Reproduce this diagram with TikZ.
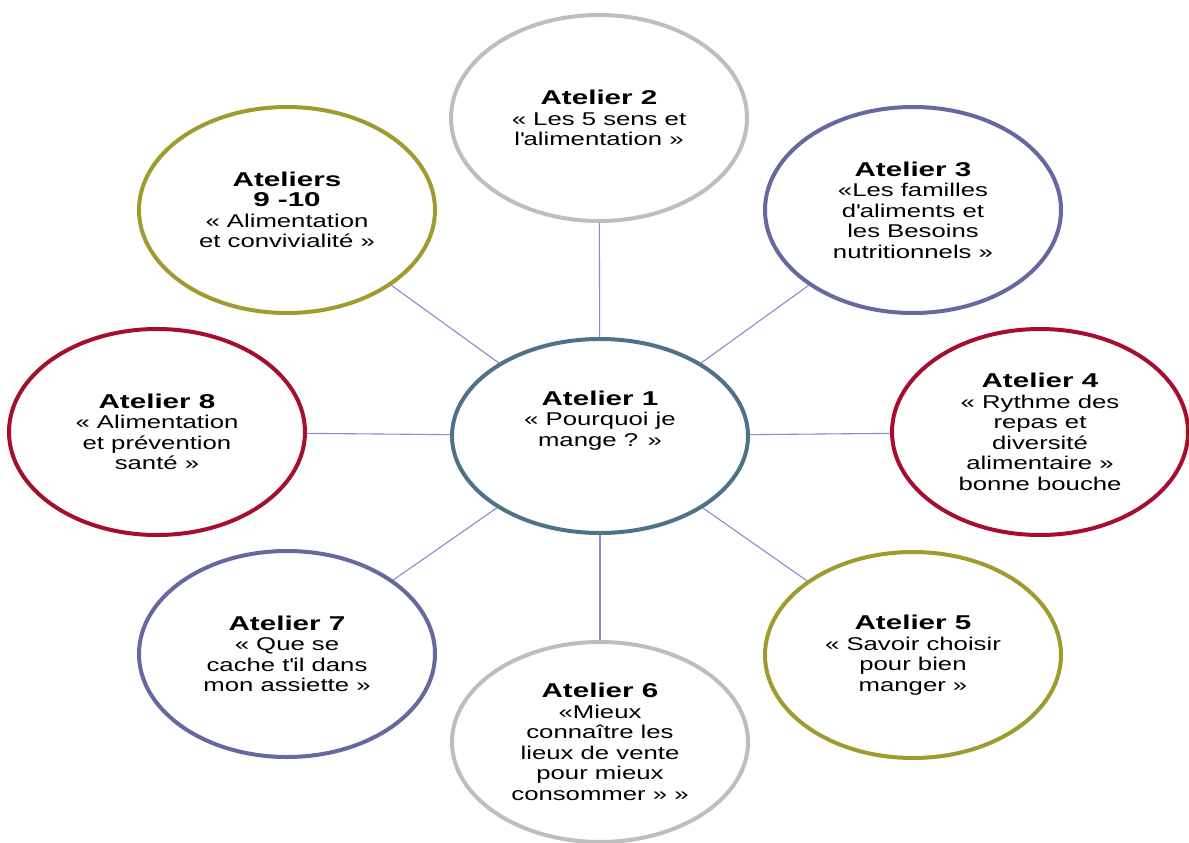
\documentclass[tikz,border=0pt]{standalone}
\usepackage{fontspec}
\setmainfont[FakeStretch=1.39]{Liberation Sans}
\newfontfamily\titrefont[FakeStretch=1.48]{Liberation Sans}
\usetikzlibrary{shapes.geometric}
\definecolor{bleucentre}{RGB}{78,114,134}
\definecolor{grisbulle}{RGB}{190,190,190}
\definecolor{violetbulle}{RGB}{104,104,160}
\definecolor{olivebulle}{RGB}{160,155,48}
\definecolor{rougebulle}{RGB}{165,15,45}
\definecolor{lienbleu}{RGB}{140,140,200}
\newcommand\titreatelier[1]{{\titrefont\bfseries\fontsize{20}{23}\selectfont #1}}

\begin{document}
\begin{tikzpicture}[x=1pt,y=-1pt,
    bulle/.style={draw,ellipse,line width=4pt,minimum width=296pt,minimum height=206pt,
      inner sep=0pt,align=center,font=\fontsize{18.5}{20.5}\selectfont},
    lien/.style={draw=lienbleu,line width=1.1pt}]
  \fill[white] (0,0) rectangle (1189,843);
  \useasboundingbox (0,0) rectangle (1189,843);
  % centre
  \node[bulle,draw=bleucentre,minimum height=194pt] (a1) at (600,436)
    {\titreatelier{Atelier 1}\\« Pourquoi je\\mange ? »\\[14pt]\mbox{}};
  % ateliers autour
  \node[bulle,draw=grisbulle] (a2) at (599,118)
    {\titreatelier{Atelier 2}\\« Les 5 sens et\\l\textquotesingle alimentation »};
  \node[bulle,draw=violetbulle] (a3) at (913,210)
    {\titreatelier{Atelier 3}\\«Les familles\\d\textquotesingle aliments et\\les Besoins\\nutritionnels »};
  \node[bulle,draw=rougebulle] (a4) at (1040,432)
    {\titreatelier{Atelier 4}\\« Rythme des\\repas et\\diversité\\alimentaire »\\bonne bouche};
  \node[bulle,draw=olivebulle] (a5) at (913,655)
    {\titreatelier{Atelier 5}\\« Savoir choisir\\pour bien\\manger »};
  \node[bulle,draw=grisbulle,minimum height=200pt] (a6) at (600,742)
    {\titreatelier{Atelier 6}\\«Mieux\\connaître les\\lieux de vente\\pour mieux\\consommer » »};
  \node[bulle,draw=violetbulle] (a7) at (287,654)
    {\titreatelier{Atelier 7}\\« Que se\\cache t\textquotesingle il dans\\mon assiette »};
  \node[bulle,draw=rougebulle] (a8) at (157,432)
    {\titreatelier{Atelier 8}\\« Alimentation\\et prévention\\santé »};
  \node[bulle,draw=olivebulle] (a9) at (287,210)
    {\titreatelier{Ateliers}\\\titreatelier{9 -10}\\« Alimentation\\et convivialité »};
  % liens
  \foreach \n in {a2,a3,a4,a5,a6,a7,a8,a9}
    \draw[lien] (a1) -- (\n);
\end{tikzpicture}
\end{document}
